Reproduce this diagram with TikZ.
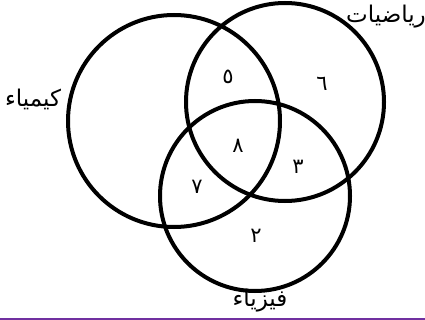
\documentclass[tikz,border=0pt]{standalone}
\usepackage{fontspec}
\newfontfamily\arabicfont[Script=Arabic]{DejaVu Sans}
\TeXXeTstate=1
\definecolor{barpurple}{RGB}{112,48,160}
\tikzset{
  venn/.style={draw=black, line width=4pt},
  setlabel/.style={font=\arabicfont\fontsize{23}{26}\selectfont, inner sep=0pt},
  num/.style={font=\arabicfont\fontsize{21}{24}\selectfont, inner sep=0pt}
}
\begin{document}
\begin{tikzpicture}[x=1pt,y=-1pt]
\useasboundingbox (0,0) rectangle (425,320);
\fill[white] (0,0) rectangle (425,320);
\draw[barpurple, line width=1.2pt] (0,319) -- (425,319);
\coordinate (cc) at (174,121);
\coordinate (cm) at (285,102);
\coordinate (cp) at (255,196);
\draw[venn] (cc) circle[radius=106];
\draw[venn] (cm) circle[radius=99];
\draw[venn] (cp) circle[radius=95];
\node[setlabel] (lc) at (33,99) {\beginR كيمياء\endR};
\node[setlabel] (lm) at (386,17) {\beginR رياضيات\endR};
\node[setlabel] (lp) at (260,301) {\beginR فيزياء\endR};
\node[num] (n5) at (228,77) {٥};
\node[num] (n6) at (322,84) {٦};
\node[num] (n8) at (238,146) {٨};
\node[num] (n3) at (298,167) {٣};
\node[num] (n7) at (197,187) {٧};
\node[num] (n2) at (256,236) {٢};
\end{tikzpicture}
\end{document}
